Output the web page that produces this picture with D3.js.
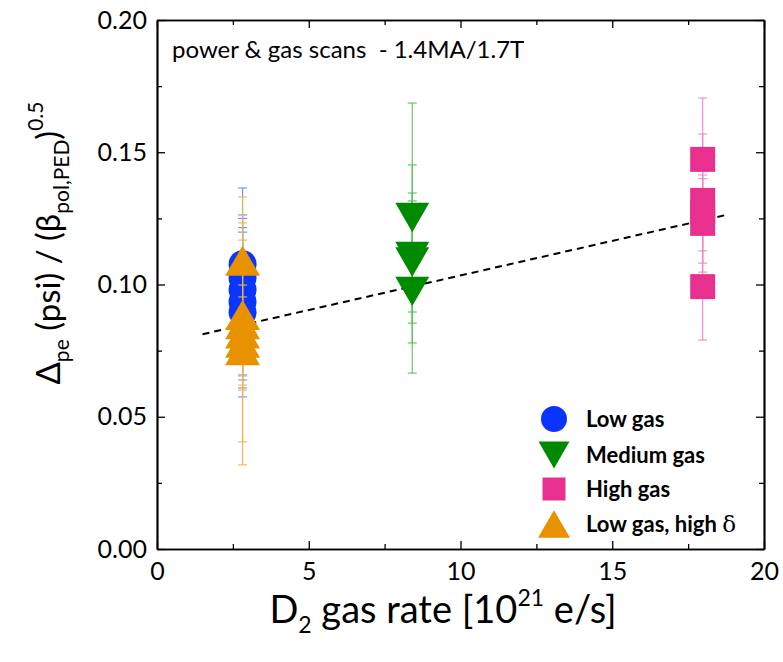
<!DOCTYPE html>
<html>
<head>
<meta charset="utf-8">
<script src="https://cdn.jsdelivr.net/npm/d3@7"></script>
<style>
  body { margin: 0; background: #fff; }
  svg text { font-family: Lato, "Open Sans", sans-serif; fill: #000; }
</style>
</head>
<body>
<svg id="chart" width="783" height="662"></svg>
<script>
// ---- data ----
const xTicks = [0, 5, 10, 15, 20];
const yTicks = [0.00, 0.05, 0.10, 0.15, 0.20];
const xMinorTicks = [2.5, 7.5, 12.5, 17.5];
const yMinorTicks = [0.025, 0.075, 0.125, 0.175];

// Low gas
const lowGasX  = [2.82, 2.82, 2.82, 2.82, 2.82];
const lowGasY  = [0.1077, 0.1025, 0.0980, 0.0935, 0.0895];
const lowGasHi = [0.1365, 0.1263, 0.1198, 0.1250, 0.1215];
const lowGasLo = [0.0790, 0.0658, 0.0639, 0.0609, 0.0575];

// Medium gas
const medGasX  = [8.41, 8.41, 8.41, 8.41];
const medGasY  = [0.1253, 0.1106, 0.1085, 0.0974];
const medGasHi = [0.1686, 0.1452, 0.1346, 0.1316];
const medGasLo = [0.0854, 0.0779, 0.0896, 0.0665];

// High gas
const highGasX  = [17.98, 17.98, 17.98, 17.98, 17.98];
const highGasY  = [0.1473, 0.1318, 0.1274, 0.1231, 0.0992];
const highGasHi = [0.1705, 0.1569, 0.1414, 0.1400, 0.1190];
const highGasLo = [0.1245, 0.1081, 0.1127, 0.1047, 0.0790];

// Low gas, high delta
const lowGasHdX  = [2.82, 2.82, 2.82, 2.82, 2.82, 2.82];
const lowGasHdY  = [0.1090, 0.0885, 0.0850, 0.0815, 0.0780, 0.0752];
const lowGasHdHi = [0.1331, 0.1233, 0.0998, 0.1168, 0.0953, 0.1085];
const lowGasHdLo = [0.0850, 0.0620, 0.0654, 0.0405, 0.0601, 0.0318];

// Trend line
const fitX = [1.5, 18.75];
const fitY = [0.0812, 0.1263];

const legendLabels = ["Low gas", "Medium gas", "High gas", "Low gas, high "];

// ---- layout ----
const svg = d3.select("#chart");
const x = d3.scaleLinear().domain([0, 20]).range([157, 764]);
const y = d3.scaleLinear().domain([0, 0.2]).range([549, 20]);

// custom marker shapes, centred on their bounding box; size = width
const triUp = { draw(ctx, w) { const h = w * 0.866;
  ctx.moveTo(0, -h / 2); ctx.lineTo(w / 2, h / 2); ctx.lineTo(-w / 2, h / 2); ctx.closePath(); } };
const triDown = { draw(ctx, w) { const h = w * 0.866;
  ctx.moveTo(-w / 2, -h / 2); ctx.lineTo(w / 2, -h / 2); ctx.lineTo(0, h / 2); ctx.closePath(); } };
const square = { draw(ctx, w) { ctx.rect(-w / 2, -w / 2, w, w); } };
const circle = { draw(ctx, w) { ctx.arc(0, 0, w / 2, 0, 2 * Math.PI); } };

const series = [
  { xs: lowGasX, ys: lowGasY, hi: lowGasHi, lo: lowGasLo, shape: circle, size: 28,
    fill: "#0a35ff", err: "#6f8cff" },
  { xs: medGasX, ys: medGasY, hi: medGasHi, lo: medGasLo, shape: triDown, size: 34,
    fill: "#008a00", err: "#5cbf5c" },
  { xs: highGasX, ys: highGasY, hi: highGasHi, lo: highGasLo, shape: square, size: 25,
    fill: "#e8318f", err: "#f386bf" },
  { xs: lowGasHdX, ys: lowGasHdY, hi: lowGasHdHi, lo: lowGasHdLo, shape: triUp, size: 35,
    fill: "#e89200", err: "#f0b24a" }
];

// ---- axes ----
const axisG = svg.append("g");
function styleAxis(g) {
  g.attr("font-family", null);
  g.select(".domain").attr("stroke", "#000").attr("stroke-width", 1.7);
  g.selectAll(".tick line").attr("stroke", "#000").attr("stroke-width", 1.3);
  g.selectAll("text").attr("font-size", 25).attr("fill", "#000");
}
axisG.append("g").attr("transform", `translate(0,${y(0)})`)
  .call(d3.axisBottom(x).tickValues(xTicks).tickSizeInner(-8).tickSizeOuter(0)
    .tickPadding(13).tickFormat(d3.format("d")))
  .call(styleAxis);
axisG.append("g").attr("transform", `translate(0,${y(0)})`)
  .call(d3.axisBottom(x).tickValues(xMinorTicks).tickSizeInner(-5).tickSizeOuter(0).tickFormat(""))
  .call(styleAxis);
axisG.append("g").attr("transform", `translate(0,${y(0.2)})`)
  .call(d3.axisTop(x).tickValues(xTicks).tickSizeInner(-8).tickSizeOuter(0).tickFormat(""))
  .call(styleAxis);
axisG.append("g").attr("transform", `translate(0,${y(0.2)})`)
  .call(d3.axisTop(x).tickValues(xMinorTicks).tickSizeInner(-5).tickSizeOuter(0).tickFormat(""))
  .call(styleAxis);
axisG.append("g").attr("transform", `translate(${x(0)},0)`)
  .call(d3.axisLeft(y).tickValues(yTicks).tickSizeInner(-8).tickSizeOuter(0)
    .tickPadding(10).tickFormat(d3.format(".2f")))
  .call(styleAxis);
axisG.append("g").attr("transform", `translate(${x(0)},0)`)
  .call(d3.axisLeft(y).tickValues(yMinorTicks).tickSizeInner(-5).tickSizeOuter(0).tickFormat(""))
  .call(styleAxis);
axisG.append("g").attr("transform", `translate(${x(20)},0)`)
  .call(d3.axisRight(y).tickValues(yTicks).tickSizeInner(-8).tickSizeOuter(0).tickFormat(""))
  .call(styleAxis);
axisG.append("g").attr("transform", `translate(${x(20)},0)`)
  .call(d3.axisRight(y).tickValues(yMinorTicks).tickSizeInner(-5).tickSizeOuter(0).tickFormat(""))
  .call(styleAxis);

// ---- trend line ----
svg.append("path")
  .datum(fitX.map((v, i) => [v, fitY[i]]))
  .attr("d", d3.line().x(d => x(d[0])).y(d => y(d[1])))
  .attr("fill", "none").attr("stroke", "#000").attr("stroke-width", 2)
  .attr("stroke-dasharray", "7,5");

// ---- error bars and markers ----
const capW = 4.5;
series.forEach(s => {
  const g = svg.append("g");
  const idx = d3.range(s.ys.length);
  const eb = g.selectAll(".eb").data(idx).join("g").attr("stroke", s.err).attr("stroke-width", 1.1);
  eb.append("line").attr("x1", i => x(s.xs[i])).attr("x2", i => x(s.xs[i]))
    .attr("y1", i => y(s.hi[i])).attr("y2", i => y(s.lo[i]));
  eb.append("line").attr("x1", i => x(s.xs[i]) - capW).attr("x2", i => x(s.xs[i]) + capW)
    .attr("y1", i => y(s.hi[i])).attr("y2", i => y(s.hi[i]));
  eb.append("line").attr("x1", i => x(s.xs[i]) - capW).attr("x2", i => x(s.xs[i]) + capW)
    .attr("y1", i => y(s.lo[i])).attr("y2", i => y(s.lo[i]));
  g.selectAll(".mk").data(idx).join("path")
    .attr("d", d3.symbol(s.shape, s.size))
    .attr("transform", i => `translate(${x(s.xs[i])},${y(s.ys[i])})`)
    .attr("fill", s.fill);
});

// ---- legend ----
const legendSizes = [26, 31, 23, 32];
const legendRows = [419, 455, 489, 524];
const legend = svg.append("g");
series.forEach((s, i) => {
  legend.append("path").attr("d", d3.symbol(s.shape, legendSizes[i]))
    .attr("transform", `translate(554,${legendRows[i]})`).attr("fill", s.fill);
  const t = legend.append("text").attr("x", 586).attr("y", legendRows[i]).attr("dy", "0.36em")
    .attr("font-size", 22).attr("font-weight", "bold").style("white-space", "pre")
    .text(legendLabels[i]);
  if (i === 3) t.append("tspan").attr("font-family", "'DejaVu Serif', serif")
    .attr("font-weight", "normal").attr("font-size", 23).text("δ");
});

// ---- annotation ----
svg.append("text").attr("x", 172).attr("y", 58).attr("font-size", 24)
  .style("white-space", "pre")
  .text("power & gas scans  - 1.4MA/1.7T");

// ---- axis titles ----
const xt = svg.append("text").attr("x", 443).attr("y", 623).attr("text-anchor", "middle")
  .attr("font-size", 38).style("white-space", "pre");
xt.append("tspan").text("D");
xt.append("tspan").attr("font-size", 23).attr("dy", 10).text("2");
xt.append("tspan").attr("dy", -10).text(" gas rate [10");
xt.append("tspan").attr("font-size", 23).attr("dy", -17).text("21");
xt.append("tspan").attr("dy", 17).text(" e/s]");

const yt = svg.append("text").attr("transform", "translate(60,243) rotate(-90)")
  .attr("text-anchor", "middle").attr("font-size", 33).style("white-space", "pre");
yt.append("tspan").text("Δ");
yt.append("tspan").attr("font-size", 21).attr("dy", 9).text("pe");
yt.append("tspan").attr("dy", -9).text(" (psi) / (β");
yt.append("tspan").attr("font-size", 21).attr("dy", 9).text("pol,PED");
yt.append("tspan").attr("dy", -9).text(")");
yt.append("tspan").attr("font-size", 21).attr("dy", -17).text("0.5");
</script>
</body>
</html>
